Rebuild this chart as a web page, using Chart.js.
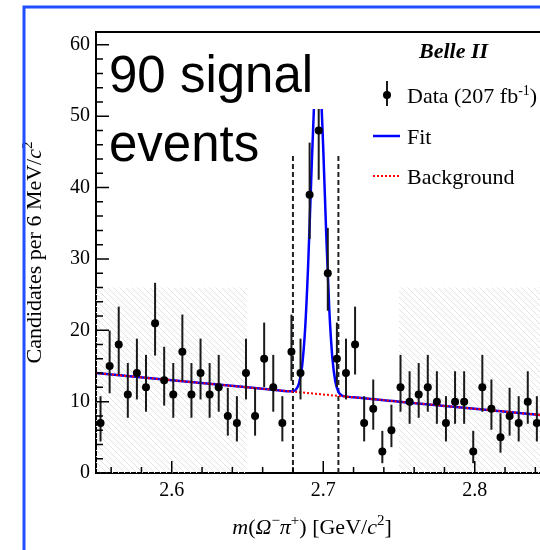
<!DOCTYPE html>
<html>
<head>
<meta charset="utf-8">
<script src="https://cdn.jsdelivr.net/npm/chart.js@4.4.1/dist/chart.umd.min.js"></script>
<style>
  html, body { margin: 0; padding: 0; background: #fff; }
  #wrap { width: 540px; height: 550px; overflow: hidden; position: relative; }
  canvas { display: block; }
</style>
</head>
<body>
<div id="wrap"><canvas id="massChart" width="600" height="550"></canvas></div>
<script>
// m(Omega- pi+) bin centres, 6 MeV bins
const binCenters = [
  2.553, 2.559, 2.565, 2.571, 2.577, 2.583, 2.589, 2.595, 2.601, 2.607,
  2.613, 2.619, 2.625, 2.631, 2.637, 2.643, 2.649, 2.655, 2.661, 2.667,
  2.673, 2.679, 2.685, 2.691, 2.697, 2.703, 2.709, 2.715, 2.721, 2.727,
  2.733, 2.739, 2.745, 2.751, 2.757, 2.763, 2.769, 2.775, 2.781, 2.787,
  2.793, 2.799, 2.805, 2.811, 2.817, 2.823, 2.829, 2.835, 2.841, 2.847
];
const candidates = [
  7, 15, 18, 11, 14, 12, 21, 13, 11, 17,
  11, 14, 11, 12, 8, 7, 14, 8, 16, 12,
  7, 17, 14, 39, 48, 28, 16, 14, 18, 7,
  9, 3, 6, 12, 10, 11, 12, 10, 7, 10,
  10, 3, 12, 9, 5, 8, 7, 10, 7, 9
];

// fit curve (signal + background)
const fitMass = [2.55, 2.60, 2.65, 2.67, 2.678, 2.680, 2.682, 2.684, 2.686, 2.688,
  2.690, 2.692, 2.694, 2.696, 2.698, 2.700, 2.702, 2.704, 2.706, 2.708,
  2.710, 2.712, 2.714, 2.72, 2.75, 2.80, 2.85];
const fitValues = [14.0, 13.0, 12.0, 11.6, 11.44, 11.48, 11.71, 12.56, 14.91, 20.07,
  28.98, 40.78, 51.96, 57.70, 55.09, 45.45, 33.27, 22.87, 16.18, 12.79,
  11.39, 10.91, 10.75, 10.6, 10.0, 9.0, 8.0];

// background component
const bkgMass = [2.55, 2.85];
const bkgValues = [14.0, 8.0];

// signal window and sidebands
const windowEdges = [2.68, 2.71];
const windowTop = 44.6;
const sidebandRanges = [[2.55, 2.65], [2.75, 2.85]];
const sidebandTop = 26;

const xTickLabels = [2.6, 2.7, 2.8];
const yTickLabels = [0, 10, 20, 30, 40, 50, 60];

const SERIF = '"Liberation Serif", "Times New Roman", serif';
const SANS = '"Liberation Sans", Arial, sans-serif';

function makeHatch() {
  const c = document.createElement('canvas');
  c.width = 6; c.height = 6;
  const g = c.getContext('2d');
  g.strokeStyle = '#e2e2e2';
  g.lineWidth = 1;
  g.beginPath();
  g.moveTo(-1, -1); g.lineTo(7, 7);
  g.moveTo(-1, 5); g.lineTo(1, 7);
  g.moveTo(5, -1); g.lineTo(7, 1);
  g.stroke();
  return g.createPattern(c, 'repeat');
}

// classic central Poisson interval (Wilson-Hilferty approximation)
function poissonInterval(n) {
  const lo = n * Math.pow(1 - 1 / (9 * n) - 1 / (3 * Math.sqrt(n)), 3);
  const m = n + 1;
  const hi = m * Math.pow(1 - 1 / (9 * m) + 1 / (3 * Math.sqrt(m)), 3);
  return [lo, hi];
}

function drawRich(ctx, parts, x, y, align) {
  let total = 0;
  parts.forEach(p => { ctx.font = p.font; p.w = ctx.measureText(p.text).width; total += p.w; });
  let cx = align === 'center' ? x - total / 2 : x;
  parts.forEach(p => {
    ctx.font = p.font;
    ctx.fillText(p.text, cx, y + (p.dy || 0));
    cx += p.w;
  });
}

const hatch = makeHatch();

const datasets = [
  {
    label: 'Data (207 fb-1)',
    data: binCenters.map((m, i) => ({ x: m, y: candidates[i] })),
    showLine: false,
    pointRadius: 4,
    pointBackgroundColor: '#000',
    pointBorderWidth: 0,
    order: 0
  },
  {
    label: 'Background',
    data: bkgMass.map((m, i) => ({ x: m, y: bkgValues[i] })),
    borderColor: '#ff0000',
    borderWidth: 2,
    borderDash: [2, 2],
    pointRadius: 0,
    order: 1
  },
  {
    label: 'Fit',
    data: fitMass.map((m, i) => ({ x: m, y: fitValues[i] })),
    borderColor: '#0000ff',
    borderWidth: 2.5,
    cubicInterpolationMode: 'monotone',
    pointRadius: 0,
    order: 2
  }
];

windowEdges.forEach(edge => {
  datasets.push({
    label: 'window',
    data: [{ x: edge, y: 0 }, { x: edge, y: windowTop }],
    borderColor: '#222',
    borderWidth: 2,
    borderDash: [5, 3],
    pointRadius: 0,
    order: 3
  });
});

sidebandRanges.forEach(r => {
  datasets.push({
    label: 'sideband',
    data: [{ x: r[0], y: sidebandTop }, { x: r[1], y: sidebandTop }],
    borderColor: 'transparent',
    borderWidth: 0,
    backgroundColor: hatch,
    fill: 'origin',
    pointRadius: 0,
    order: 4
  });
});

const decorPlugin = {
  id: 'decor',
  beforeDraw(chart) {
    const ctx = chart.ctx;
    ctx.save();
    ctx.fillStyle = '#fff';
    ctx.fillRect(0, 0, chart.width, chart.height);
    ctx.restore();
  },
  beforeDatasetDraw(chart, args) {
    if (args.index !== 0) return;
    const { ctx, scales: { x, y } } = chart;
    ctx.save();
    ctx.strokeStyle = '#1a1a1a';
    ctx.lineWidth = 2;
    binCenters.forEach((m, i) => {
      const [lo, hi] = poissonInterval(candidates[i]);
      const px = x.getPixelForValue(m);
      ctx.beginPath();
      ctx.moveTo(px, y.getPixelForValue(lo));
      ctx.lineTo(px, y.getPixelForValue(hi));
      ctx.stroke();
    });
    ctx.restore();
  },
  afterDraw(chart) {
    const { ctx, chartArea: area, scales: { x, y } } = chart;
    ctx.save();

    // "90 signal events" text boxes
    ctx.fillStyle = '#fff';
    ctx.fillRect(104, area.top + 1, 236, 108 - area.top);
    ctx.fillRect(104, 109, 166, 63);
    ctx.fillStyle = '#000';
    ctx.textBaseline = 'alphabetic';
    ctx.textAlign = 'left';
    ctx.font = '51px ' + SANS;
    ctx.fillText('90 signal', 109, 92);
    ctx.fillText('events', 109, 161);

    // frame top
    ctx.strokeStyle = '#000';
    ctx.lineWidth = 2;
    ctx.beginPath();
    ctx.moveTo(area.left, area.top);
    ctx.lineTo(area.right, area.top);
    ctx.stroke();

    // inside tick marks
    ctx.lineWidth = 1.5;
    ctx.beginPath();
    for (let v = 0; v <= 60; v += 2) {
      const py = y.getPixelForValue(v);
      const len = v % 10 === 0 ? 13 : 7;
      ctx.moveTo(area.left, py);
      ctx.lineTo(area.left + len, py);
    }
    for (let k = 128; k <= 142; k++) {
      const v = k / 50;
      const px = x.getPixelForValue(v);
      const len = k % 5 === 0 ? 12 : 6;
      ctx.moveTo(px, area.bottom);
      ctx.lineTo(px, area.bottom - len);
    }
    ctx.stroke();

    // legend
    ctx.fillStyle = '#000';
    ctx.font = 'italic bold 22px ' + SERIF;
    ctx.fillText('Belle II', 419, 58);

    ctx.strokeStyle = '#1a1a1a';
    ctx.lineWidth = 2;
    ctx.beginPath();
    ctx.moveTo(387, 81);
    ctx.lineTo(387, 106);
    ctx.stroke();
    ctx.beginPath();
    ctx.arc(387, 95, 4, 0, Math.PI * 2);
    ctx.fill();
    drawRich(ctx, [
      { text: 'Data (207 fb', font: '22px ' + SERIF },
      { text: '-1', font: '14px ' + SERIF, dy: -8 },
      { text: ')', font: '22px ' + SERIF }
    ], 407, 103, 'left');

    ctx.strokeStyle = '#0000ff';
    ctx.lineWidth = 2.5;
    ctx.beginPath();
    ctx.moveTo(373, 136);
    ctx.lineTo(400, 136);
    ctx.stroke();
    ctx.font = '22px ' + SERIF;
    ctx.fillText('Fit', 407, 144);

    ctx.strokeStyle = '#ff0000';
    ctx.lineWidth = 2;
    ctx.setLineDash([2, 2]);
    ctx.beginPath();
    ctx.moveTo(373, 176);
    ctx.lineTo(400, 176);
    ctx.stroke();
    ctx.setLineDash([]);
    ctx.fillText('Background', 407, 184);

    // axis titles
    ctx.textBaseline = 'middle';
    drawRich(ctx, [
      { text: 'm', font: 'italic 22px ' + SERIF },
      { text: '(', font: '22px ' + SERIF },
      { text: '\u03A9', font: 'italic 22px ' + SERIF },
      { text: '\u2212', font: '15px ' + SERIF, dy: -7 },
      { text: '\u03C0', font: 'italic 22px ' + SERIF },
      { text: '+', font: '15px ' + SERIF, dy: -7 },
      { text: ') [GeV/', font: '22px ' + SERIF },
      { text: 'c', font: 'italic 22px ' + SERIF },
      { text: '2', font: '15px ' + SERIF, dy: -7 },
      { text: ']', font: '22px ' + SERIF }
    ], 312, 528, 'center');

    ctx.save();
    ctx.translate(35, (area.top + area.bottom) / 2);
    ctx.rotate(-Math.PI / 2);
    drawRich(ctx, [
      { text: 'Candidates per 6 MeV/', font: '22px ' + SERIF },
      { text: 'c', font: 'italic 22px ' + SERIF },
      { text: '2', font: '15px ' + SERIF, dy: -7 }
    ], 0, 0, 'center');
    ctx.restore();

    // outer blue border
    ctx.strokeStyle = '#1f4fff';
    ctx.lineWidth = 3;
    ctx.beginPath();
    ctx.moveTo(24, chart.height);
    ctx.lineTo(24, 7);
    ctx.lineTo(chart.width, 7);
    ctx.stroke();

    ctx.restore();
  }
};

new Chart(document.getElementById('massChart'), {
  type: 'line',
  data: { datasets: datasets },
  options: {
    responsive: false,
    animation: false,
    devicePixelRatio: 1,
    layout: { padding: { left: 0, top: 32, right: 49.5, bottom: 0 } },
    plugins: {
      legend: { display: false },
      tooltip: { enabled: false }
    },
    scales: {
      x: {
        type: 'linear',
        min: 2.55,
        max: 2.85,
        afterFit: s => { s.height = 77; },
        afterBuildTicks: s => { s.ticks = xTickLabels.map(v => ({ value: v })); },
        grid: { display: false, drawTicks: false },
        border: { display: true, color: '#000', width: 2 },
        ticks: {
          color: '#000',
          padding: 6,
          font: { family: SERIF, size: 20 },
          callback: v => v.toFixed(1)
        }
      },
      y: {
        type: 'linear',
        min: 0,
        max: 61.8,
        afterFit: s => { s.width = 96; },
        afterBuildTicks: s => { s.ticks = yTickLabels.map(v => ({ value: v })); },
        grid: { display: false, drawTicks: false },
        border: { display: true, color: '#000', width: 2 },
        ticks: {
          color: '#000',
          padding: 6,
          font: { family: SERIF, size: 20 },
          callback: v => String(v)
        }
      }
    }
  },
  plugins: [decorPlugin]
});
</script>
</body>
</html>
